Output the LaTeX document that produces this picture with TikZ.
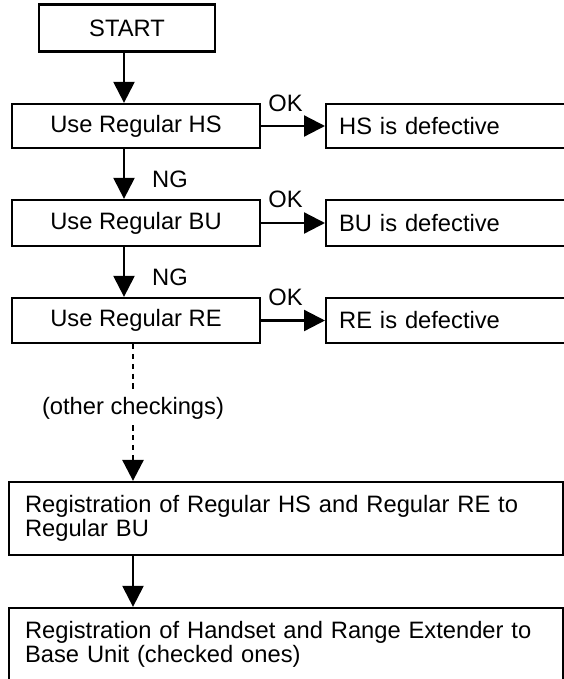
\documentclass[tikz,border=0pt]{standalone}
\usepackage{fontspec}
\setmainfont{Liberation Sans}
\usetikzlibrary{positioning,arrows.meta,calc}

\begin{document}
\begin{tikzpicture}[x=0.02cm,y=-0.02cm,
  font=\fontsize{13.5}{13.6}\selectfont,
  box/.style={draw,line width=1.3pt,rectangle,inner sep=0pt},
  sidebox/.style={box,anchor=west,minimum height=0.88cm,text width=5.48cm,
    inner xsep=0.26cm,align=left},
  regbox/.style={box,minimum height=1.46cm,text width=10.44cm,
    inner xsep=0.32cm,align=left},
  arr/.style={line width=1.3pt,-{Triangle[length=0.42cm,width=0.42cm]}},
  dashline/.style={line width=1.6pt,dash pattern=on 3pt off 2.6pt},
  lbl/.style={inner sep=0pt}]

\useasboundingbox (0,0) rectangle (564,679);
\clip (0,0) rectangle (564,679);

\coordinate (upcol) at (124,0);
\coordinate (lowcol) at (133,0);

% ---------- checking steps ----------
\node[box,minimum width=3.52cm,minimum height=0.94cm] (start) at (127,28) {START};
\node[box,minimum width=4.96cm,minimum height=0.88cm] (hs) at (136,126) {Use Regular HS};
\node[box,minimum width=4.96cm,minimum height=0.92cm] (bu) at (136,223) {Use Regular BU};
\node[box,minimum width=4.96cm,minimum height=0.90cm] (re) at (136,320.5) {Use Regular RE};

% ---------- results ----------
\node[sidebox] (hsdef) at (325,126) {HS is defective};
\node[sidebox,minimum height=0.92cm] (budef) at (325,223) {BU is defective};
\node[sidebox,minimum height=0.90cm] (redef) at (325,320.5) {RE is defective};

\node[lbl,anchor=west] (okhs) at ([xshift=0.14cm]hs.north east) {OK};
\node[lbl,anchor=west] (okbu) at ([xshift=0.14cm]bu.north east) {OK};
\node[lbl,anchor=west] (okre) at ([xshift=0.14cm]re.north east) {OK};

% ---------- registration ----------
\node (other) at (133,408) {(other checkings)};
\node[regbox] (reg1) at (286,518.5)
  {Registration of Regular HS and Regular RE to\\Regular BU};
\node[regbox] (reg2) at (286,644.5)
  {Registration of Handset and Range Extender to\\Base Unit (checked ones)};

% ---------- connectors ----------
\draw[arr] (start.south -| upcol) -- (hs.north -| upcol);
\draw[arr] (hs.south -| upcol) -- node[lbl,right,xshift=0.54cm,yshift=-0.1cm] (nghs) {NG} (bu.north -| upcol);
\draw[arr] (bu.south -| upcol) -- node[lbl,right,xshift=0.54cm,yshift=-0.1cm] (ngbu) {NG} (re.north -| upcol);
\draw[arr] (hs) -- (hsdef);
\draw[arr] (bu) -- (budef);
\draw[arr] (re) -- (redef);
\draw[dashline] (re.south -| lowcol) -- (other);
\draw[arr,dashline] (other) -- (reg1.north -| lowcol);
\draw[arr] (reg1.south -| lowcol) -- (reg2.north -| lowcol);
\end{tikzpicture}
\end{document}
